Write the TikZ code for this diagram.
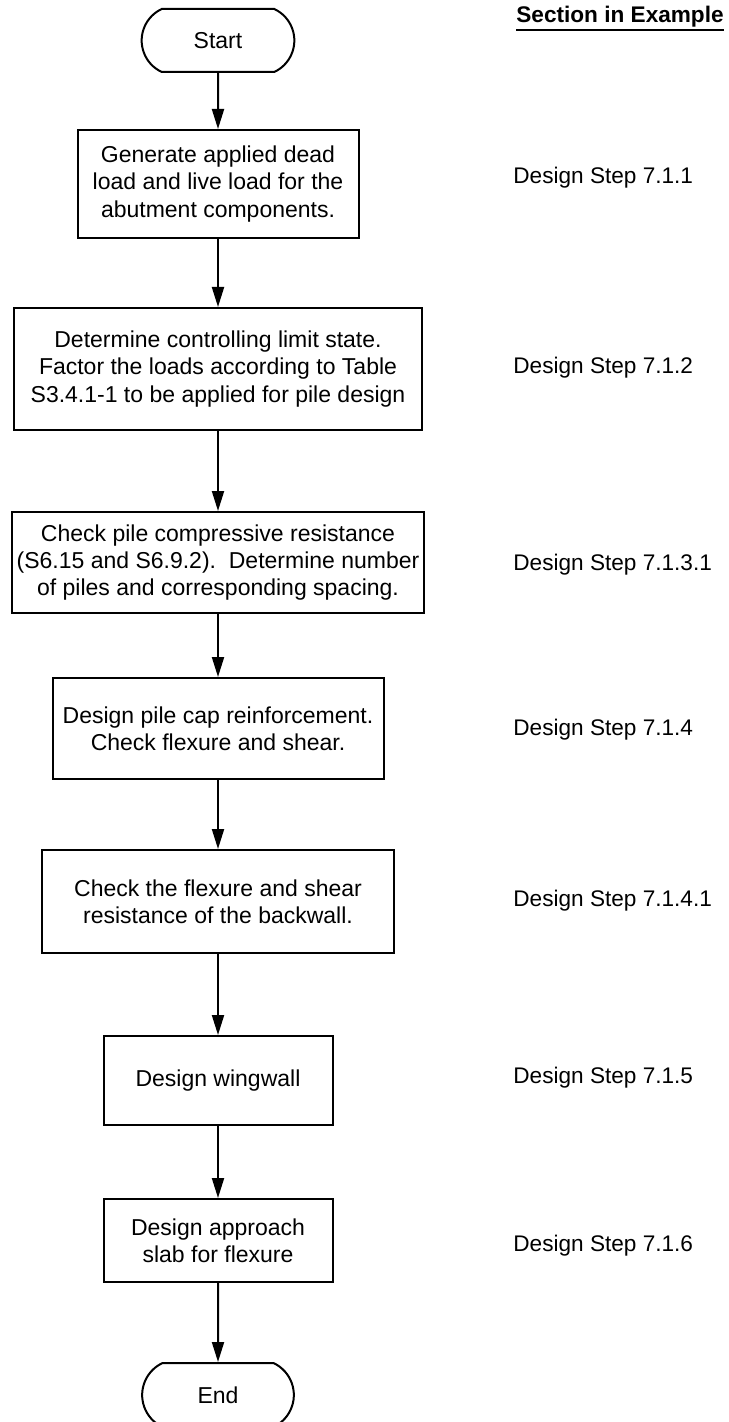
\documentclass[tikz,border=0pt]{standalone}
\usepackage{fontspec}
\setsansfont{Liberation Sans}
\usepackage{tikz}
\usetikzlibrary{arrows.meta,shapes.misc}
\tikzset{
  terminal/.style={draw,line width=1pt,rounded rectangle,rounded rectangle arc length=130,minimum width=83pt,minimum height=31.5pt,font=\sffamily\fontsize{11.5}{13.7}\selectfont},
  process/.style={draw,line width=1pt,align=center,inner sep=2pt,font=\sffamily\fontsize{11.5}{13.7}\selectfont},
  steplabel/.style={anchor=base west,inner sep=0pt,font=\sffamily\fontsize{11.3}{13.6}\selectfont},
  heading/.style={anchor=base west,inner xsep=0pt,inner ysep=1pt,font=\sffamily\bfseries\fontsize{11.3}{13.6}\selectfont},
  line/.style={-{Triangle[length=10pt,width=6pt]},line width=1pt}
}

\begin{document}
\begin{tikzpicture}[x=0.5pt,y=0.5pt]
  \useasboundingbox (0,0) rectangle (728,-1422);
  % flow chart
  \node[terminal] (start) at (218,-40.5) {Start};
  \node[process,minimum width=140.5pt,minimum height=54pt] (loads) at (218,-184) {Generate applied dead\\load and live load for the\\abutment components.};
  \node[process,minimum width=204pt,minimum height=61pt] (limit) at (218,-369) {Determine controlling limit state.\\Factor the loads according to Table\\S3.4.1-1 to be applied for pile design};
  \node[process,minimum width=206pt,minimum height=50.5pt] (piles) at (218,-562.5) {Check pile compressive resistance\\(S6.15 and S6.9.2).~~Determine number\\of piles and corresponding spacing.};
  \node[process,minimum width=165.5pt,minimum height=50.5pt] (pilecap) at (218,-728.5) {Design pile cap reinforcement.\\Check flexure and shear.};
  \node[process,minimum width=176pt,minimum height=51.5pt] (backwall) at (218,-901.5) {Check the flexure and shear\\resistance of the backwall.};
  \node[process,minimum width=114.5pt,minimum height=44.5pt] (wingwall) at (218,-1080.5) {Design wingwall};
  \node[process,minimum width=114.5pt,minimum height=41.5pt] (slab) at (218,-1240.5) {Design approach\\slab for flexure};
  \node[terminal,minimum width=82.5pt,minimum height=32pt] (end) at (218,-1395) {End};
  % section references
  \node[heading] (head) at (516,-23) {Section in Example};
  \draw[line width=1pt] (head.south west) -- (head.south east);
  \node[steplabel] (ref1) at (513,-184) {Design Step 7.1.1};
  \node[steplabel] (ref2) at (513,-374) {Design Step 7.1.2};
  \node[steplabel] (ref3) at (513,-570) {Design Step 7.1.3.1};
  \node[steplabel] (ref4) at (513,-735) {Design Step 7.1.4};
  \node[steplabel] (ref5) at (513,-906) {Design Step 7.1.4.1};
  \node[steplabel] (ref6) at (513,-1083) {Design Step 7.1.5};
  \node[steplabel] (ref7) at (513,-1251) {Design Step 7.1.6};
  % connectors
  \draw[line] (start) -- (loads);
  \draw[line] (loads) -- (limit);
  \draw[line] (limit) -- (piles);
  \draw[line] (piles) -- (pilecap);
  \draw[line] (pilecap) -- (backwall);
  \draw[line] (backwall) -- (wingwall);
  \draw[line] (wingwall) -- (slab);
  \draw[line] (slab) -- (end);
\end{tikzpicture}
\end{document}
